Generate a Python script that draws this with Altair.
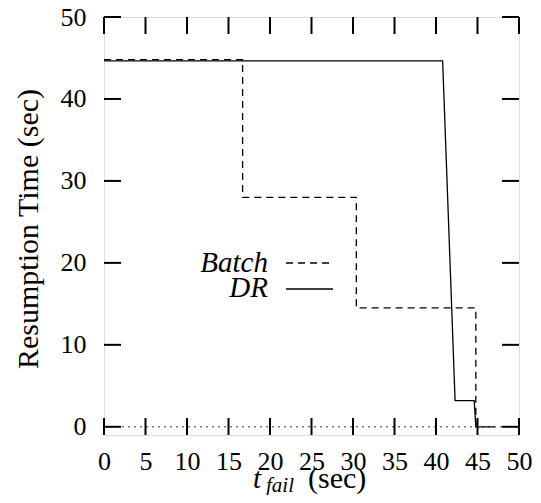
import altair as alt
import pandas as pd

# ---- data ----
batch_x = [0.0, 16.7, 30.4, 44.8]
batch_y = [44.8, 28.0, 14.5, 0.0]
dr_x = [0.0, 40.8, 42.3, 44.6, 44.8, 47.1]
dr_y = [44.65, 44.65, 3.2, 3.2, 0.0, 0.0]
x_ticks = [0, 5, 10, 15, 20, 25, 30, 35, 40, 45, 50]
y_ticks = [0, 10, 20, 30, 40, 50]
zero_x = [0, 50]
zero_y = [0, 0]
legend_names = ["Batch", "DR"]

FONT = "Liberation Serif"
W, H = 415, 418
TICK = 17

batch = pd.DataFrame({"x": batch_x, "y": batch_y})
dr = pd.DataFrame({"x": dr_x, "y": dr_y})
zero = pd.DataFrame({"x": zero_x, "y": zero_y})
xt = pd.DataFrame({"v": x_ticks})
yt = pd.DataFrame({"v": y_ticks})

xscale = alt.Scale(domain=[0, 50], nice=False, zero=False)
yscale = alt.Scale(domain=[-1, 50], nice=False, zero=False)

xaxis = alt.Axis(values=x_ticks, title=None, domain=False, ticks=False, grid=False,
                 labelFont=FONT, labelFontSize=26, labelColor="black",
                 labelPadding=13, labelFlush=False, labelOverlap=False)
yaxis = alt.Axis(values=y_ticks, title=None, domain=False, ticks=False, grid=False,
                 labelFont=FONT, labelFontSize=26, labelColor="black",
                 labelPadding=18, labelFlush=False, labelOverlap=False)

base_x = alt.X("x:Q", scale=xscale, axis=xaxis)
base_y = alt.Y("y:Q", scale=yscale, axis=yaxis)

zero_line = alt.Chart(zero).mark_line(color="#333333", strokeWidth=1, strokeDash=[2, 4]).encode(
    x=base_x, y=base_y)

batch_line = alt.Chart(batch).mark_line(color="black", strokeWidth=1.3, strokeDash=[7, 5],
                                        interpolate="step-after").encode(
    x=alt.X("x:Q", scale=xscale), y=alt.Y("y:Q", scale=yscale))

dr_line = alt.Chart(dr).mark_line(color="black", strokeWidth=1.3).encode(
    x=alt.X("x:Q", scale=xscale), y=alt.Y("y:Q", scale=yscale))

# inward ticks on all four sides
tick_style = dict(color="black", strokeWidth=2)
bottom_ticks = alt.Chart(xt).mark_rule(**tick_style).encode(
    x=alt.X("v:Q", scale=xscale), y=alt.value(H), y2=alt.value(H - TICK))
top_ticks = alt.Chart(xt).mark_rule(**tick_style).encode(
    x=alt.X("v:Q", scale=xscale), y=alt.value(0), y2=alt.value(TICK))
left_ticks = alt.Chart(yt).mark_rule(**tick_style).encode(
    y=alt.Y("v:Q", scale=yscale), x=alt.value(0), x2=alt.value(TICK))
right_ticks = alt.Chart(yt).mark_rule(**tick_style).encode(
    y=alt.Y("v:Q", scale=yscale), x=alt.value(W), x2=alt.value(W - TICK))

# legend (label then sample line)
leg = pd.DataFrame({"name": legend_names})
leg_batch_text = alt.Chart(leg[leg.name == "Batch"]).mark_text(
    font=FONT, fontSize=29, fontStyle="italic", align="right", baseline="alphabetic").encode(
    text="name:N", x=alt.value(164), y=alt.value(255))
leg_dr_text = alt.Chart(leg[leg.name == "DR"]).mark_text(
    font=FONT, fontSize=29, fontStyle="italic", align="right", baseline="alphabetic").encode(
    text="name:N", x=alt.value(164), y=alt.value(280))
leg_batch_line = alt.Chart(leg[leg.name == "Batch"]).mark_rule(
    color="black", strokeWidth=1.3, strokeDash=[7, 5]).encode(
    x=alt.value(182), x2=alt.value(229), y=alt.value(246))
leg_dr_line = alt.Chart(leg[leg.name == "DR"]).mark_rule(
    color="black", strokeWidth=1.3).encode(
    x=alt.value(182), x2=alt.value(229), y=alt.value(272))

# axis titles
titles = pd.DataFrame({"t": ["Resumption Time (sec)", "t", "fail", "(sec)"]})
ytitle = alt.Chart(titles[titles.t == "Resumption Time (sec)"]).mark_text(
    font=FONT, fontSize=30, angle=270, align="center", baseline="middle").encode(
    text="t:N", x=alt.value(-75), y=alt.value(212))
xt_t = alt.Chart(titles[titles.t == "t"]).mark_text(
    font=FONT, fontSize=29, fontStyle="italic", align="left", baseline="alphabetic").encode(
    text="t:N", x=alt.value(149), y=alt.value(471))
xt_fail = alt.Chart(titles[titles.t == "fail"]).mark_text(
    font=FONT, fontSize=21, fontStyle="italic", align="left", baseline="alphabetic").encode(
    text="t:N", x=alt.value(162), y=alt.value(475))
xt_sec = alt.Chart(titles[titles.t == "(sec)"]).mark_text(
    font=FONT, fontSize=30, align="left", baseline="alphabetic").encode(
    text="t:N", x=alt.value(204), y=alt.value(471))

chart = alt.layer(
    zero_line, batch_line, dr_line,
    bottom_ticks, top_ticks, left_ticks, right_ticks,
    leg_batch_text, leg_dr_text, leg_batch_line, leg_dr_line,
    ytitle, xt_t, xt_fail, xt_sec,
).properties(
    width=W, height=H,
    autosize=alt.AutoSizeParams(type="none"),
    padding={"left": 96, "top": 9, "right": 14, "bottom": 60},
).configure_view(
    stroke="black", strokeWidth=2.5
).configure(background="white")

chart.save("out.html", embed_options={"renderer": "svg", "actions": False})
